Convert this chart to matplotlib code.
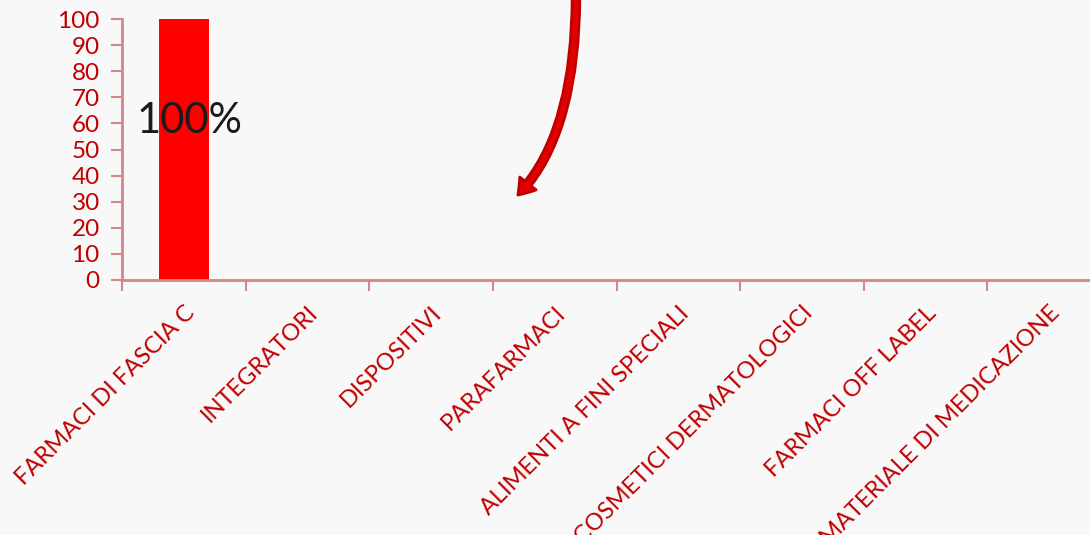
import matplotlib.pyplot as plt
from matplotlib.patches import FancyArrowPatch

categories = ['FARMACI DI FASCIA C', 'INTEGRATORI', 'DISPOSITIVI', 'PARAFARMACI',
              'ALIMENTI A FINI SPECIALI', 'COSMETICI DERMATOLOGICI',
              'FARMACI OFF LABEL', 'MATERIALE DI MEDICAZIONE']
values = [100, 0, 0, 0, 0, 0, 0, 0]
bar_label = '100%'

RED = '#C00000'
plt.rcParams['font.family'] = ['Lato', 'DejaVu Sans']

fig = plt.figure(figsize=(10.9, 5.35), dpi=100)
fig.patch.set_facecolor('#F8F8F8')
ax = fig.add_axes([122 / 1090, 1 - 280 / 535, 989 / 1090, 261 / 535])
ax.set_facecolor('none')

x = range(len(categories))
ax.bar(x, values, width=0.4, color='#FF0000', zorder=2)
ax.text(0 - 0.38, 61, bar_label, fontsize=30, color='#1a1a1a', va='center', ha='left', zorder=3)

ax.set_xlim(-0.5, len(categories) - 0.5)
ax.set_ylim(0, 100)
ax.set_yticks(range(0, 101, 10))
ax.tick_params(axis='y', colors='#D08888', labelcolor=RED, labelsize=17.5, length=8, width=1.5, pad=8)

ax.set_xticks(list(x))
ax.set_xticklabels(categories, rotation=45, ha='right', rotation_mode='anchor',
                   color=RED, fontsize=17)
ax.tick_params(axis='x', length=0, pad=16)
ax.set_xticks([i - 0.5 for i in range(len(categories) + 1)], minor=True)
ax.tick_params(axis='x', which='minor', length=8, width=1.5, color='#D08888')

for s in ['top', 'right']:
    ax.spines[s].set_visible(False)
for s in ['left', 'bottom']:
    ax.spines[s].set_color('#D08888')
    ax.spines[s].set_linewidth(2)

arrow = FancyArrowPatch((576, 540), (516, 338), transform=None,
                        connectionstyle='angle3,angleA=90,angleB=45',
                        arrowstyle='simple,head_width=1.5,head_length=1.1,tail_width=0.55',
                        mutation_scale=10, facecolor='#E00000', edgecolor=RED, linewidth=2)
fig.patches.append(arrow)

fig.savefig('out.png', dpi=100, facecolor=fig.get_facecolor())
